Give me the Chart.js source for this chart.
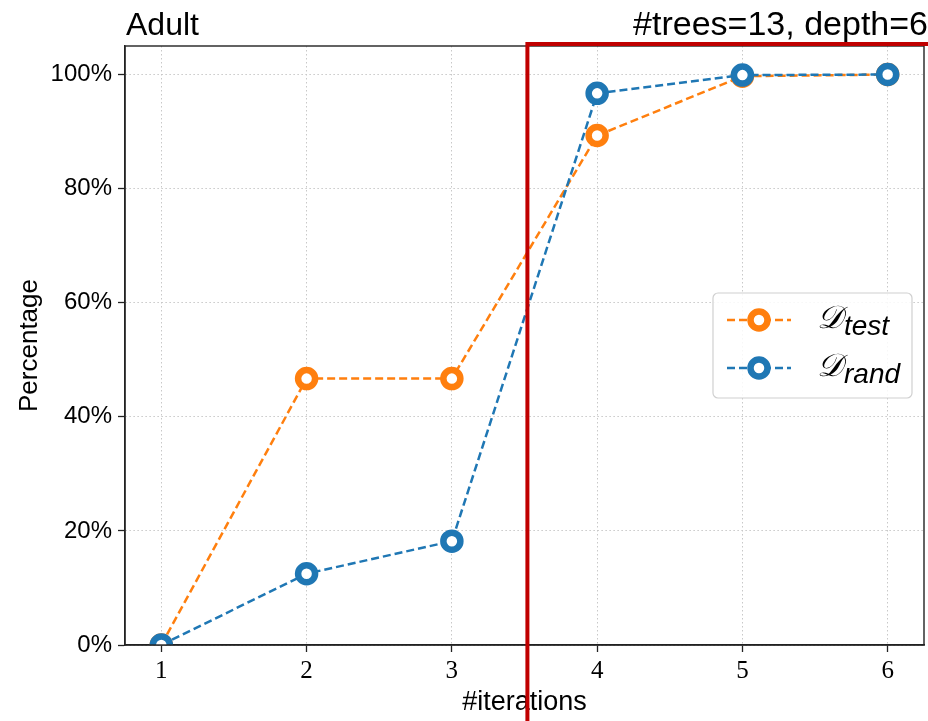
<!DOCTYPE html>
<html>
<head>
<meta charset="utf-8">
<script src="https://cdn.jsdelivr.net/npm/chart.js@4/dist/chart.umd.min.js"></script>
<style>
  html, body { margin: 0; padding: 0; background: #fff; }
  canvas { display: block; }
</style>
</head>
<body>
<canvas id="chart" width="928" height="721"></canvas>
<script>
const iterations = [1, 2, 3, 4, 5, 6];
const testPct = [0, 46.7, 46.7, 89.3, 99.7, 100];
const randPct = [0, 12.5, 18.2, 96.7, 99.9, 100];
const xTicks = [1, 2, 3, 4, 5, 6];
const yTicks = [0, 20, 40, 60, 80, 100];
const cutoffIteration = 3.52;

const ORANGE = '#ff7f0e';
const BLUE = '#1f77b4';
const SANS = '"Liberation Sans", "DejaVu Sans", sans-serif';
const SERIF = '"Liberation Serif", "DejaVu Serif", serif';

const toPoints = vals => iterations.map((x, i) => ({ x: x, y: vals[i] }));

const lineStyle = color => ({
    borderColor: color,
    backgroundColor: '#ffffff',
    borderWidth: 2.5,
    borderDash: [8, 4],
    pointRadius: 8.5,
    pointHoverRadius: 8.5,
    pointBorderWidth: 6.5,
    pointBackgroundColor: '#ffffff',
    pointBorderColor: color,
    tension: 0,
    fill: false,
    clip: 0,
});

// frame, legend, titles and the red highlight box
const decorations = {
    id: 'decorations',
    afterDraw(chart) {
        const ctx = chart.ctx;
        const a = chart.chartArea;
        ctx.save();

        // full box around the plot
        ctx.strokeStyle = '#222';
        ctx.lineWidth = 1.4;
        ctx.strokeRect(a.left, a.top, a.right - a.left, a.bottom - a.top);

        // legend (center right)
        const bw = 199, bh = 105;
        const bx = a.right - 12 - bw;
        const by = (a.top + a.bottom) / 2 - bh / 2;
        ctx.fillStyle = 'rgba(255,255,255,0.85)';
        ctx.strokeStyle = '#d0d0d0';
        ctx.lineWidth = 1.2;
        ctx.beginPath();
        ctx.roundRect(bx, by, bw, bh, 5);
        ctx.fill();
        ctx.stroke();

        const entries = [
            { color: ORANGE, sub: 'test', y: by + 27 },
            { color: BLUE, sub: 'rand', y: by + 75 },
        ];
        entries.forEach(e => {
            ctx.strokeStyle = e.color;
            ctx.lineWidth = 2.5;
            ctx.setLineDash([8, 4]);
            ctx.beginPath();
            ctx.moveTo(bx + 14, e.y);
            ctx.lineTo(bx + 78, e.y);
            ctx.stroke();
            ctx.setLineDash([]);
            ctx.lineWidth = 6.5;
            ctx.fillStyle = '#fff';
            ctx.beginPath();
            ctx.arc(bx + 46, e.y, 8.5, 0, Math.PI * 2);
            ctx.fill();
            ctx.stroke();

            ctx.fillStyle = '#000';
            ctx.textAlign = 'left';
            ctx.textBaseline = 'alphabetic';
            ctx.font = 'italic 32px ' + SERIF;
            ctx.fillText('\u{1D49F}', bx + 104, e.y + 8);
            const dw = ctx.measureText('\u{1D49F}').width;
            ctx.font = 'italic 28px ' + SANS;
            ctx.fillText(e.sub, bx + 104 + dw + 1, e.y + 15);
        });

        // titles
        ctx.fillStyle = '#000';
        ctx.font = '32px ' + SANS;
        ctx.textBaseline = 'alphabetic';
        ctx.textAlign = 'left';
        ctx.fillText('Adult', a.left + 1, 35);
        ctx.font = '34px ' + SANS;
        ctx.textAlign = 'right';
        ctx.fillText('#trees=13, depth=6', a.right + 4, 35);

        // red highlight box
        const xs = chart.scales.x;
        const rx = xs.getPixelForValue(cutoffIteration);
        ctx.strokeStyle = '#c00000';
        ctx.lineWidth = 4;
        ctx.strokeRect(rx, a.top - 2, chart.width + 20 - rx, chart.height + 20);

        ctx.restore();
    }
};

new Chart(document.getElementById('chart').getContext('2d'), {
    type: 'line',
    data: {
        datasets: [
            Object.assign({ label: 'D_test', data: toPoints(testPct), order: 2 }, lineStyle(ORANGE)),
            Object.assign({ label: 'D_rand', data: toPoints(randPct), order: 1 }, lineStyle(BLUE)),
        ]
    },
    options: {
        responsive: false,
        animation: false,
        devicePixelRatio: 1,
        layout: { autoPadding: false, padding: { top: 46, right: 4, left: 0, bottom: 0 } },
        plugins: {
            legend: { display: false },
            tooltip: { enabled: false },
        },
        scales: {
            x: {
                type: 'linear',
                min: 0.75,
                max: 6.25,
                afterBuildTicks: s => { s.ticks = xTicks.map(v => ({ value: v })); },
                afterFit: s => {
                    s.height = 76;
                    s.paddingLeft = 0;
                    s.paddingRight = 0;
                },
                grid: {
                    color: '#c8c8c8',
                    lineWidth: 1,
                    tickLength: 7,
                    tickColor: '#222',
                    tickWidth: 1.3,
                },
                border: { display: true, color: '#222', width: 1.4, dash: [1.5, 2.5] },
                ticks: {
                    color: '#000',
                    padding: 4,
                    font: { family: SERIF, size: 25 },
                    callback: v => String(v),
                },
                title: {
                    display: true,
                    text: '#iterations',
                    color: '#000',
                    font: { family: SANS, size: 27 },
                    padding: { top: 0, bottom: 2 },
                },
            },
            y: {
                min: 0,
                max: 105,
                afterBuildTicks: s => { s.ticks = yTicks.map(v => ({ value: v })); },
                afterFit: s => {
                    s.width = 125;
                    s.paddingTop = 0;
                    s.paddingBottom = 0;
                },
                grid: {
                    color: '#c8c8c8',
                    lineWidth: 1,
                    tickLength: 7,
                    tickColor: '#222',
                    tickWidth: 1.3,
                },
                border: { display: true, color: '#222', width: 1.4, dash: [1.5, 2.5] },
                ticks: {
                    color: '#000',
                    padding: 6,
                    font: { family: SANS, size: 24 },
                    callback: v => v + '%',
                },
                title: {
                    display: true,
                    text: 'Percentage',
                    color: '#000',
                    font: { family: SANS, size: 26 },
                    padding: { top: 14, bottom: 0 },
                },
            },
        },
    },
    plugins: [decorations],
});
</script>
</body>
</html>
